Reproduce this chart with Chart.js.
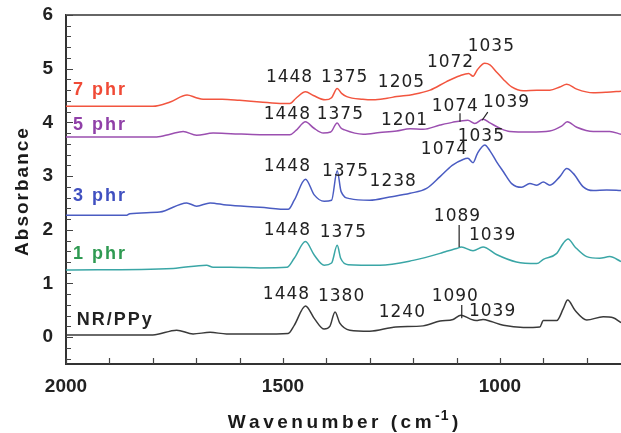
<!DOCTYPE html>
<html>
<head>
<meta charset="utf-8">
<script src="https://cdn.jsdelivr.net/npm/chart.js@4.4.1/dist/chart.umd.min.js"></script>
<style>
  html, body { margin: 0; padding: 0; background: #fff; }
  #wrap { width: 621px; height: 433px; }
</style>
</head>
<body>
<div id="wrap"><canvas id="c" width="621" height="433"></canvas></div>
<script>
// FTIR spectra of NR/PPy composites (wavenumber in cm-1, absorbance offset per sample)
const seriesNames = ['7 phr', '5 phr', '3 phr', '1 phr', 'NR/PPy'];

const wn7 = [2000, 1800, 1760, 1721, 1700, 1684, 1640, 1600, 1553, 1500, 1484, 1470, 1448, 1430, 1403, 1388, 1375, 1365, 1353, 1316, 1292, 1260, 1238, 1200, 1161, 1123, 1092, 1072, 1062, 1052, 1035, 1023, 1008, 992, 973, 946, 915, 885, 862, 846, 823, 785, 754, 721];
const abs7 = [4.30, 4.30, 4.38, 4.51, 4.46, 4.43, 4.43, 4.41, 4.38, 4.35, 4.35, 4.45, 4.57, 4.50, 4.42, 4.46, 4.63, 4.54, 4.48, 4.43, 4.42, 4.45, 4.48, 4.52, 4.60, 4.76, 4.87, 4.91, 4.86, 4.98, 5.10, 5.07, 4.94, 4.80, 4.66, 4.59, 4.60, 4.60, 4.66, 4.71, 4.62, 4.55, 4.56, 4.58];

const wn5 = [2000, 1791, 1760, 1730, 1699, 1661, 1620, 1553, 1484, 1470, 1448, 1430, 1407, 1390, 1375, 1367, 1358, 1315, 1277, 1238, 1207, 1177, 1138, 1110, 1074, 1058, 1039, 1023, 1000, 977, 931, 885, 858, 845, 823, 785, 747, 721];
const abs5 = [3.73, 3.73, 3.78, 3.83, 3.76, 3.80, 3.79, 3.77, 3.77, 3.85, 4.01, 3.90, 3.80, 3.82, 3.99, 3.90, 3.86, 3.78, 3.81, 3.84, 3.88, 3.87, 3.95, 4.00, 4.04, 3.98, 4.06, 3.99, 3.89, 3.83, 3.82, 3.84, 3.93, 4.01, 3.91, 3.83, 3.83, 3.78];

const wn3 = [2000, 1860, 1853, 1784, 1722, 1699, 1668, 1630, 1553, 1488, 1474, 1448, 1428, 1405, 1388, 1375, 1366, 1346, 1300, 1254, 1207, 1169, 1138, 1110, 1085, 1074, 1062, 1052, 1035, 1023, 1008, 992, 973, 950, 931, 915, 900, 885, 862, 846, 831, 808, 785, 754, 721];
const abs3 = [2.27, 2.27, 2.30, 2.33, 2.50, 2.44, 2.50, 2.46, 2.42, 2.38, 2.55, 2.94, 2.65, 2.53, 2.55, 3.10, 2.71, 2.58, 2.55, 2.61, 2.68, 2.77, 2.99, 3.20, 3.31, 3.33, 3.25, 3.42, 3.58, 3.47, 3.27, 3.08, 2.86, 2.79, 2.86, 2.83, 2.89, 2.83, 2.99, 3.14, 3.05, 2.80, 2.73, 2.74, 2.73];

const wn1 = [2000, 1753, 1676, 1661, 1620, 1553, 1491, 1474, 1448, 1428, 1405, 1388, 1375, 1367, 1350, 1277, 1200, 1138, 1123, 1100, 1089, 1062, 1039, 1008, 962, 915, 900, 869, 854, 843, 827, 800, 770, 747, 721];
const abs1 = [1.25, 1.28, 1.34, 1.30, 1.30, 1.29, 1.30, 1.47, 1.78, 1.53, 1.34, 1.38, 1.71, 1.47, 1.35, 1.34, 1.43, 1.56, 1.60, 1.65, 1.68, 1.61, 1.68, 1.54, 1.40, 1.37, 1.45, 1.56, 1.75, 1.83, 1.68, 1.50, 1.47, 1.50, 1.41];

const wn0 = [2000, 1800, 1745, 1707, 1668, 1630, 1553, 1488, 1474, 1448, 1428, 1405, 1392, 1380, 1369, 1346, 1300, 1240, 1177, 1138, 1108, 1090, 1069, 1055, 1039, 1020, 992, 946, 908, 900, 869, 854, 844, 827, 800, 762, 739, 721];
const abs0 = [0.04, 0.04, 0.13, 0.06, 0.09, 0.06, 0.06, 0.07, 0.22, 0.58, 0.35, 0.15, 0.20, 0.47, 0.26, 0.13, 0.11, 0.19, 0.21, 0.30, 0.33, 0.41, 0.34, 0.31, 0.33, 0.29, 0.22, 0.18, 0.19, 0.31, 0.31, 0.53, 0.69, 0.50, 0.32, 0.38, 0.36, 0.27];

const xTickLabels = [2000, 1500, 1000];
const yTickLabels = [0, 1, 2, 3, 4, 5, 6];

// Peak assignments per spectrum: text, anchor wavenumber, anchor absorbance
const peakLabels = [
  ['1448', 1486, 4.83], ['1375', 1359, 4.84], ['1205', 1228, 4.75], ['1072', 1115, 5.11], ['1035', 1021, 5.42],
  ['1448', 1491, 4.15], ['1375', 1369, 4.14], ['1201', 1221, 4.04], ['1074', 1104, 4.29], ['1039', 986, 4.36],
  ['1448', 1491, 3.17], ['1375', 1357, 3.09], ['1238', 1247, 2.89], ['1074', 1129, 3.50], ['1035', 1044, 3.73],
  ['1448', 1491, 1.98], ['1375', 1362, 1.94], ['1089', 1099, 2.24], ['1039', 1018, 1.90],
  ['1448', 1493, 0.80], ['1380', 1366, 0.76], ['1240', 1226, 0.45], ['1090', 1104, 0.76], ['1039', 1018, 0.48]
];
// Leader lines from a label down to its band: [wn1, y1, wn2, y2]
const leaders = [
  [1092, 4.17, 1092, 4.01],
  [1028, 4.19, 1041, 4.04],
  [1094, 2.09, 1094, 1.68],
  [1088, 0.60, 1088, 0.35]
];
// Sample names placed at the left of each trace: [wn, absorbance]
const nameAnchors = [[1984, 4.60], [1984, 3.95], [1984, 2.63], [1984, 1.55], [1975, 0.32]];

const lineColors = ['#f2553f', '#9b4fb0', '#4a5cc2', '#3aa6a6', '#3a3a3a'];
const nameColors = ['#f04a36', '#9040a8', '#4050c0', '#2f9a52', '#222222'];

const wnSets = [wn7, wn5, wn3, wn1, wn0];
const absSets = [abs7, abs5, abs3, abs1, abs0];

const datasets = seriesNames.map((name, i) => ({
  label: name,
  data: wnSets[i].map((w, k) => ({ x: w, y: absSets[i][k] })),
  borderColor: lineColors[i],
  borderWidth: 1.5,
  pointRadius: 0,
  cubicInterpolationMode: 'monotone',
  fill: false
}));

function spacedText(ctx, text, x, y, spacing, align) {
  let total = 0;
  const widths = [...text].map(ch => ctx.measureText(ch).width);
  widths.forEach(w => total += w);
  total += spacing * (widths.length - 1);
  let start = x;
  if (align === 'center') start = x - total / 2;
  else if (align === 'right') start = x - total;
  ctx.textAlign = 'left';
  [...text].forEach((ch, k) => {
    ctx.fillText(ch, start, y);
    start += widths[k] + spacing;
  });
  return total;
}

const decorations = {
  id: 'decorations',
  afterDraw(chart) {
    const { ctx, chartArea: a, scales: { x, y } } = chart;
    ctx.save();

    // frame top edge
    ctx.strokeStyle = '#666';
    ctx.lineWidth = 2;
    ctx.beginPath();
    ctx.moveTo(a.left, a.top);
    ctx.lineTo(a.right, a.top);
    ctx.stroke();

    // inward tick marks
    ctx.strokeStyle = '#444';
    ctx.lineWidth = 1.2;
    ctx.beginPath();
    for (let v = 2000; v >= 800; v -= 100) {
      const px = Math.round(x.getPixelForValue(v)) + 0.5;
      ctx.moveTo(px, a.bottom);
      ctx.lineTo(px, a.bottom - 6);
    }
    for (let k = -2; k <= 30; k++) {
      const v = k / 5;
      const py = Math.round(y.getPixelForValue(v)) + 0.5;
      const len = (k % 5 === 0) ? 7 : 5;
      ctx.moveTo(a.left, py);
      ctx.lineTo(a.left + len, py);
    }
    ctx.stroke();

    // peak labels
    ctx.fillStyle = '#222';
    ctx.font = '17px "DejaVu Sans", sans-serif';
    ctx.textBaseline = 'middle';
    peakLabels.forEach(([t, w, v]) => {
      spacedText(ctx, t, x.getPixelForValue(w), y.getPixelForValue(v), 1, 'center');
    });
    ctx.strokeStyle = '#222';
    ctx.lineWidth = 1.2;
    leaders.forEach(([w1, v1, w2, v2]) => {
      ctx.beginPath();
      ctx.moveTo(x.getPixelForValue(w1), y.getPixelForValue(v1));
      ctx.lineTo(x.getPixelForValue(w2), y.getPixelForValue(v2));
      ctx.stroke();
    });

    // sample names
    ctx.font = 'bold 18px "Liberation Sans", Arial, sans-serif';
    seriesNames.forEach((n, i) => {
      ctx.fillStyle = nameColors[i];
      const [w, v] = nameAnchors[i];
      spacedText(ctx, n, x.getPixelForValue(w), y.getPixelForValue(v), 2, 'left');
    });

    // axis titles
    ctx.fillStyle = '#1a1a1a';
    ctx.font = 'bold 19px "Liberation Sans", Arial, sans-serif';
    ctx.save();
    ctx.translate(23, 192);
    ctx.rotate(-Math.PI / 2);
    ctx.textBaseline = 'middle';
    spacedText(ctx, 'Absorbance', 0, 0, 2, 'center');
    ctx.restore();

    const cx = 343, by = 428, sp = 3.5;
    ctx.textBaseline = 'alphabetic';
    const main = 'Wavenumber (cm';
    ctx.font = 'bold 19px "Liberation Sans", Arial, sans-serif';
    const wMain = [...main].reduce((s, ch) => s + ctx.measureText(ch).width, 0) + sp * (main.length - 1);
    ctx.font = 'bold 14px "Liberation Sans", Arial, sans-serif';
    const sup = '-1';
    const wSup = [...sup].reduce((s, ch) => s + ctx.measureText(ch).width, 0) + 1;
    ctx.font = 'bold 19px "Liberation Sans", Arial, sans-serif';
    const wClose = ctx.measureText(')').width;
    const total = wMain + sp + wSup + sp + wClose;
    let sx = cx - total / 2;
    spacedText(ctx, main, sx, by, sp, 'left');
    sx += wMain + sp;
    ctx.font = 'bold 14px "Liberation Sans", Arial, sans-serif';
    spacedText(ctx, sup, sx, by - 8, 1, 'left');
    sx += wSup + sp;
    ctx.font = 'bold 19px "Liberation Sans", Arial, sans-serif';
    ctx.fillText(')', sx, by);

    ctx.restore();
  }
};

const tickFont = { family: '"Liberation Sans", Arial, sans-serif', size: 19, weight: 'bold' };

new Chart(document.getElementById('c'), {
  type: 'line',
  data: { datasets },
  options: {
    responsive: false,
    animation: false,
    devicePixelRatio: 1,
    layout: { padding: { top: 15, right: 0, left: 0, bottom: 0 } },
    plugins: { legend: { display: false }, tooltip: { enabled: false } },
    scales: {
      x: {
        type: 'linear',
        reverse: true,
        min: 721,
        max: 2000,
        afterBuildTicks: s => { s.ticks = xTickLabels.map(v => ({ value: v })); },
        afterFit: s => { s.height = 69; s.paddingLeft = 0; s.paddingRight = 0; },
        grid: { display: false },
        border: { display: true, color: '#333', width: 2 },
        ticks: { font: tickFont, color: '#222', padding: 3, maxRotation: 0, autoSkip: false, callback: v => String(v) }
      },
      y: {
        type: 'linear',
        min: -0.5,
        max: 6,
        afterBuildTicks: s => { s.ticks = yTickLabels.map(v => ({ value: v })); },
        afterFit: s => { s.width = 66; s.paddingTop = 0; s.paddingBottom = 0; },
        grid: { display: false },
        border: { display: true, color: '#333', width: 2 },
        ticks: { font: tickFont, color: '#222', padding: 5, autoSkip: false, callback: v => String(v) }
      }
    }
  },
  plugins: [decorations]
});
</script>
</body>
</html>
